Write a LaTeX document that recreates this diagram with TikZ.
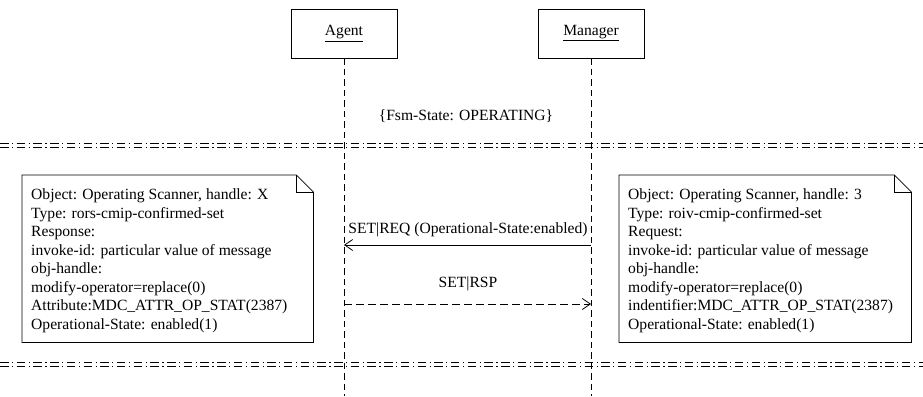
\documentclass[tikz,border=0pt]{standalone}
\usepackage{fontspec}
\setmainfont{Liberation Serif}
\usetikzlibrary{arrows.meta}
\begin{document}
\begin{tikzpicture}[x=1pt,y=-1pt,
  every node/.style={font=\fontsize{15.6}{18.55}\selectfont},
  actor/.style={draw, line width=0.8pt, minimum width=106pt, minimum height=49pt, inner sep=0},
  lifeline/.style={line width=0.8pt, dash pattern=on 6.5pt off 4pt},
  sepline/.style={line width=0.8pt, dash pattern=on 8.5pt off 3.5pt on 1.2pt off 3.5pt},
  notebox/.style={minimum width=291pt, minimum height=167pt, inner sep=0, anchor=north west},
  noteline/.style={line width=0.8pt},
  notetext/.style={align=left, inner sep=0, anchor=north west},
  msg/.style={line width=0.8pt, -{Straight Barb[length=8pt,width=11pt]}},
  reply/.style={msg, dash pattern=on 7.5pt off 4.5pt},
  lbl/.style={inner sep=0}
]
\useasboundingbox (0,0) rectangle (923,396);
% actors
\node[actor] (agent) at (344,33.5) {\underline{Agent}};
\node[actor] (manager) at (591,33.5) {\underline{Manager}};
\coordinate (bot) at (0,396);
\draw[lifeline] (agent.south) -- (agent.south |- bot);
\draw[lifeline] (manager.south) -- (manager.south |- bot);
% state
\node[lbl] (fsm) at (466,116) {\{Fsm-State: OPERATING\}};
% separators
\coordinate (s1a) at (0,143);   \coordinate (s1b) at (923,143);
\coordinate (s2a) at (0,147);   \coordinate (s2b) at (923,147);
\coordinate (s3a) at (0,362);   \coordinate (s3b) at (923,362);
\coordinate (s4a) at (0,366);   \coordinate (s4b) at (923,366);
\draw[sepline] (s1a) -- (s1b);
\draw[sepline] (s2a) -- (s2b);
\draw[sepline] (s3a) -- (s3b);
\draw[sepline] (s4a) -- (s4b);
% left note
\node[notebox] (n1) at (22,175) {};
\draw[noteline] (n1.south west) -- (n1.north west) -- ([xshift=-17pt]n1.north east)
  -- ([yshift=-17pt]n1.north east) -- (n1.south east) -- cycle;
\draw[noteline] ([xshift=-17pt]n1.north east) -- ([xshift=-17pt,yshift=-17pt]n1.north east)
  -- ([yshift=-17pt]n1.north east);
\node[notetext] (t1) at (31,188.5) {Object: Operating Scanner, handle: X\\
Type: rors-cmip-confirmed-set\\
Response:\\
invoke-id: particular value of message\\
obj-handle:\\
modify-operator=replace(0)\\
Attribute:MDC\_ATTR\_OP\_STAT(2387)\\
Operational-State: enabled(1)};
% right note
\node[notebox, minimum width=292pt] (n2) at (619,175) {};
\draw[noteline] (n2.south west) -- (n2.north west) -- ([xshift=-17pt]n2.north east)
  -- ([yshift=-17pt]n2.north east) -- (n2.south east) -- cycle;
\draw[noteline] ([xshift=-17pt]n2.north east) -- ([xshift=-17pt,yshift=-17pt]n2.north east)
  -- ([yshift=-17pt]n2.north east);
\node[notetext] (t2) at (628,188.5) {Object: Operating Scanner, handle: 3\\
Type: roiv-cmip-confirmed-set\\
Request:\\
invoke-id: particular value of message\\
obj-handle:\\
modify-operator=replace(0)\\
indentifier:MDC\_ATTR\_OP\_STAT(2387)\\
Operational-State: enabled(1)};
% messages
\coordinate (yreq) at (0,245);
\coordinate (yrsp) at (0,304);
\draw[msg] (manager.south |- yreq) -- (agent.south |- yreq);
\node[lbl] (lreq) at (468,230) {SET|REQ (Operational-State:enabled)};
\draw[reply] (agent.south |- yrsp) -- (manager.south |- yrsp);
\node[lbl] (lrsp) at (468,284) {SET|RSP};
\end{tikzpicture}
\end{document}
